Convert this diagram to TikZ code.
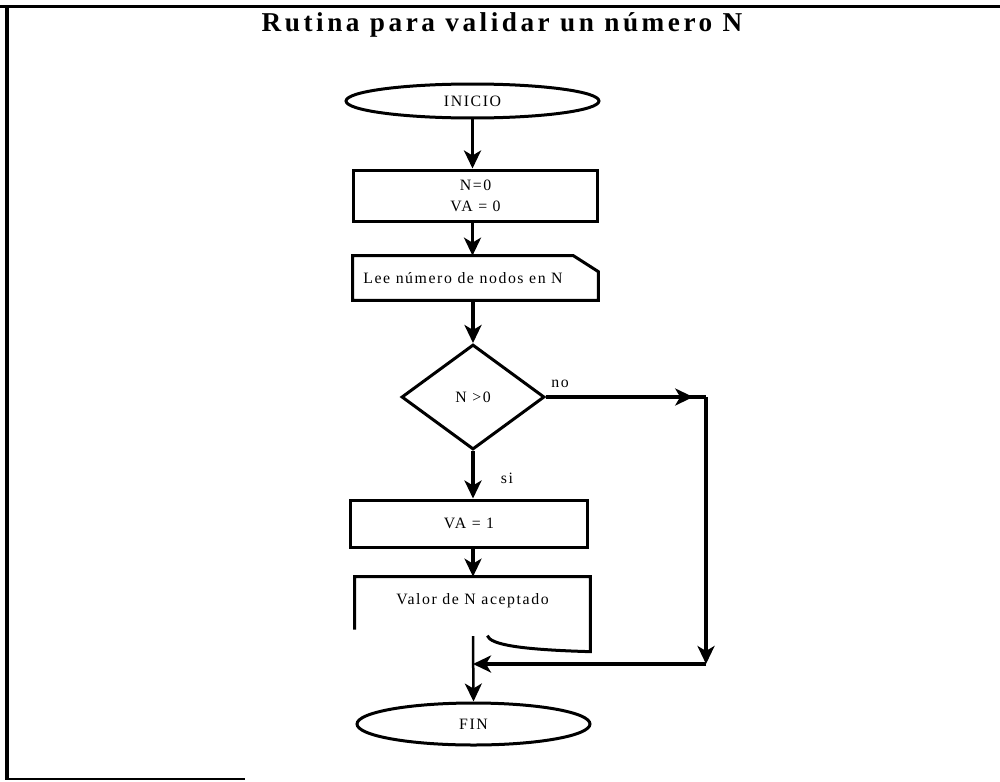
\documentclass[tikz,border=0pt]{standalone}
\usepackage{fontspec}
\setmainfont{Liberation Serif}
\usetikzlibrary{shapes.geometric,arrows.meta,calc}
\begin{document}
\begin{tikzpicture}[x=0.02cm,y=-0.02cm,
  shp/.style={draw,line width=0.06cm},
  conn/.style={line width=0.065cm},
  tip/.style={-{Stealth[length=0.36cm,width=0.34cm,inset=0.1cm]}},
  lbl/.style={font=\fontsize{9}{12}\selectfont\addfontfeature{LetterSpace=10}},
]
\useasboundingbox (0,0) rectangle (1000,781);
% page frame
\draw[line width=0.08cm] (0,6.5) -- (1000,6.5);
\draw[line width=0.08cm] (7,5) -- (7,780);
\draw[line width=0.03cm] (7,779) -- (245,779);
\node (title) at (502,25) {\fontsize{15.5}{17}\selectfont\bfseries\addfontfeature{LetterSpace=13}Rutina para validar un número N};

% steps
\node[shp,ellipse,minimum width=5.06cm,minimum height=0.68cm,inner sep=0,lbl] (inicio) at (472.5,101) {INICIO};
\node[shp,rectangle,minimum width=4.9cm,minimum height=1.04cm,align=center,lbl] (init) at (475.5,196) {N=0\\VA = 0};
\node[minimum width=4.9cm,minimum height=0.88cm,inner sep=0] (lee) at (475.5,278) {};
\node[lbl] (leetxt) at (463,278) {Lee número de nodos en N};
\draw[shp] (lee.north west) -- ([xshift=-0.5cm]lee.north east) -- ([yshift=-0.32cm]lee.north east) -- (lee.south east) -- (lee.south west) -- cycle;
\node[shp,diamond,minimum width=2.86cm,minimum height=2.1cm,inner sep=0,lbl] (dec) at (473,397) {N >0};
\node[shp,rectangle,minimum width=4.76cm,minimum height=0.94cm,lbl] (va) at (469,523.5) {VA = 1};
\node[minimum width=4.7cm,minimum height=0.96cm,inner sep=0,lbl] (doc) at (472.5,601) {Valor de N aceptado};
\draw[shp] ([shift={(0,53)}]doc.north west) -- (doc.north west) -- (doc.north east) -- ([shift={(0,75)}]doc.north east)
  .. controls ([shift={(-70,73)}]doc.north east) and ([shift={(-100,68)}]doc.north east) .. ([shift={(-103,59)}]doc.north east);
\coordinate (docout) at (473,636);
\node[shp,ellipse,minimum width=4.66cm,minimum height=0.84cm,inner sep=0,lbl] (fin) at (473.5,724) {FIN};

% branch labels
\node[lbl] (nolbl) at (560,384) {no};
\node[lbl] (silbl) at (507,478) {si};

% connectors
\draw[conn,tip] (inicio.south) -- (inicio.south |- init.north);
\draw[conn,tip] (inicio.south |- init.south) -- (inicio.south |- lee.north);
\draw[conn,tip] (dec.north |- lee.south) -- (dec.north);
\draw[conn,tip] (dec.south) -- (dec.south |- va.north);
\draw[conn,tip] (dec.south |- va.south) -- (dec.south |- doc.north);
\coordinate (ne) at (706,397);
\coordinate (se) at (706,664);
\coordinate (join) at (473,664);
\draw[conn] (dec.east) -- (ne);
\draw[conn,tip] (dec.east) -- ($(dec.east)!0.92!(ne)$);
\draw[conn,tip] (ne) -- (se);
\draw[conn,tip] (se) -- (join);
\draw[line width=0.05cm,tip] (docout) -- (fin.north);
\end{tikzpicture}
\end{document}
